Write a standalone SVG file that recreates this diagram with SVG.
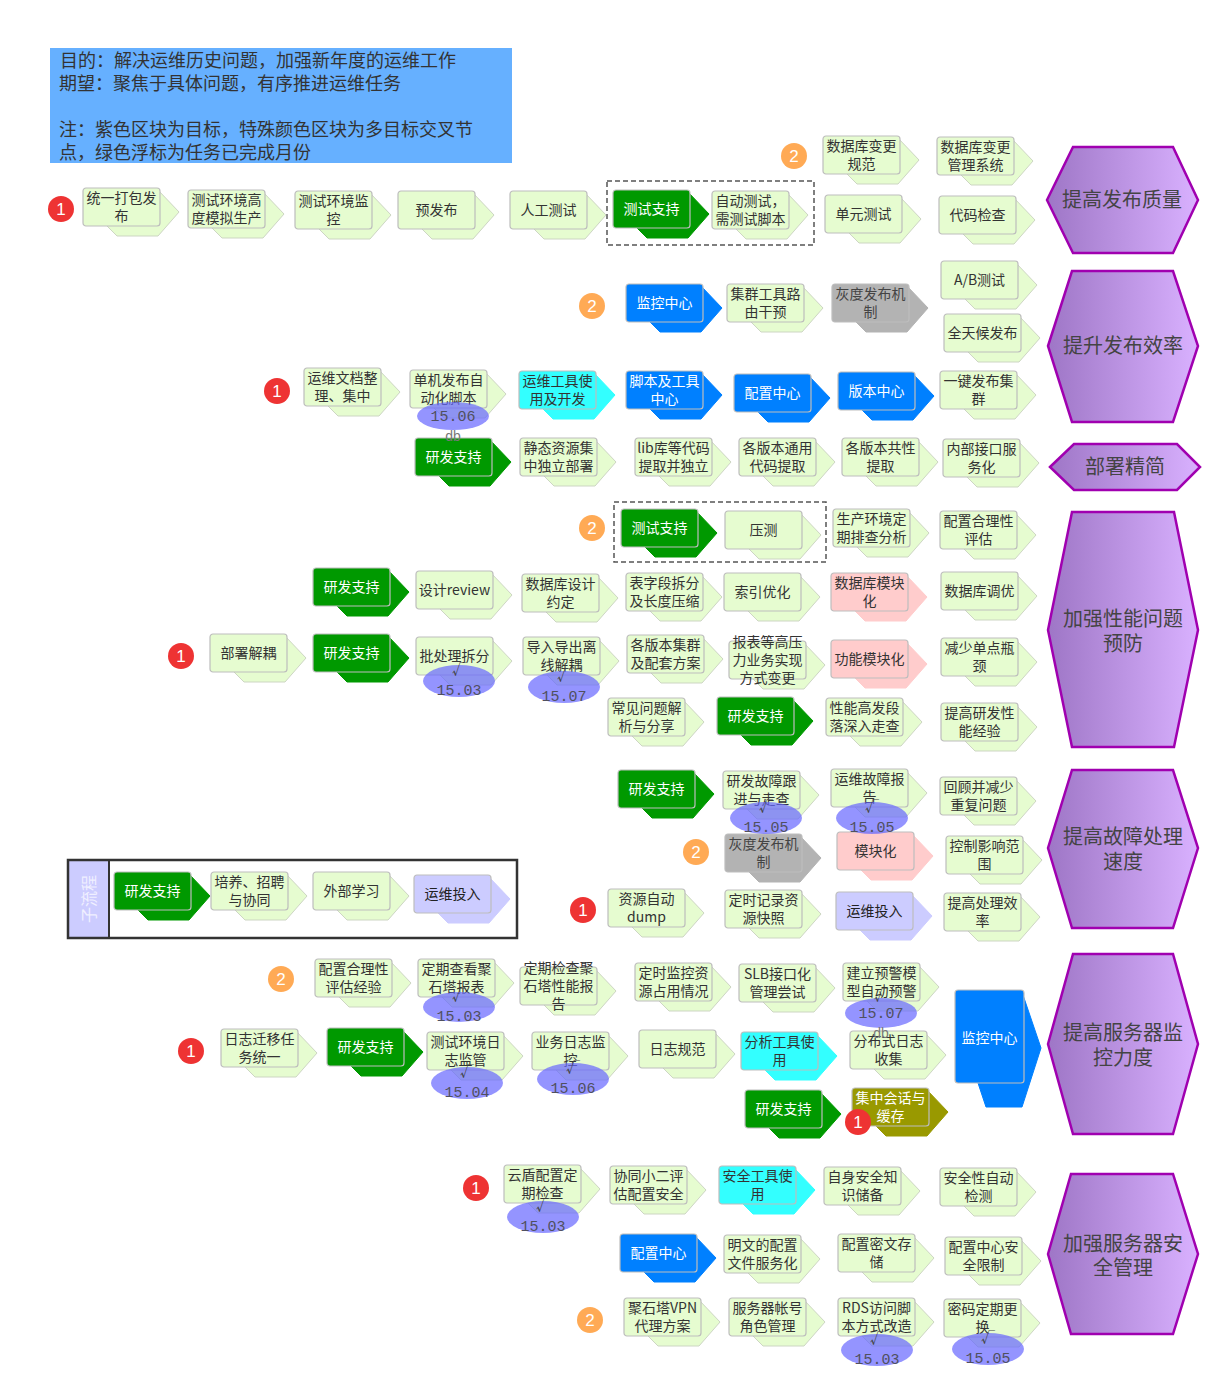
<svg xmlns="http://www.w3.org/2000/svg" xmlns:xlink="http://www.w3.org/1999/xlink" width="1232" height="1396" viewBox="0 0 1232 1396">
<defs>
<linearGradient id="hg" x1="0" y1="0" x2="1" y2="0"><stop offset="0" stop-color="#9e76c6"/><stop offset="1" stop-color="#d9b1ff"/></linearGradient>
<polygon id="bk" points="8,2 75,2 96,24 75,48 34,48 23,37"/>
<rect id="fr" width="77" height="38" rx="3"/>
</defs>
<style>
.nd text{font-family:"Noto Sans CJK SC","Liberation Sans",sans-serif;font-size:14px;text-anchor:middle}
.f{stroke:#bdbdbd;stroke-width:1.2}
.L use,.L .s{fill:#e6fcd0}.L .k{stroke:#cdd6c3}.L text{fill:#333}
.G use,.G .s{fill:#009900}.G .k{stroke:#009900}.G text{fill:#fff}
.B use,.B .s{fill:#0080ff}.B .k{stroke:#0080ff}.B text{fill:#fff}
.C use,.C .s{fill:#33ffff}.C .k{stroke:#33ffff}.C text{fill:#333}
.Y use,.Y .s{fill:#b3b3b3}.Y .k{stroke:#b3b3b3}.Y text{fill:#444}
.P use,.P .s{fill:#ffcccc}.P .k{stroke:#ffcccc}.P text{fill:#333}
.V use,.V .s{fill:#ccccff}.V .k{stroke:#ccccff}.V text{fill:#222}
.O use,.O .s{fill:#999900}.O .k{stroke:#999900}.O text{fill:#fff}
.hx polygon{fill:url(#hg);stroke:#a000b0;stroke-width:2.5}
.hx text{font-family:"Noto Sans CJK SC","Liberation Sans",sans-serif;font-size:20px;fill:#444;text-anchor:middle}
.bd circle{fill:#ee3333}.bd2 circle{fill:#ffaa55}
.bd text,.bd2 text{font-family:"Liberation Sans","Noto Sans CJK SC",sans-serif;font-size:17px;fill:#fff;text-anchor:middle}
.bub ellipse{fill:#6666ff;fill-opacity:0.7}
.bub text{text-anchor:middle}
.bub .n{font-family:"Liberation Mono",monospace;font-size:15px;fill:#505060}
.bub .c{font-family:"Noto Sans CJK SC",sans-serif;font-size:14px;fill:#444}
.bub .d{font-family:"Liberation Sans",sans-serif;font-size:14px;fill:#777}
.dash{fill:none;stroke:#555;stroke-width:1.5;stroke-dasharray:5 3}
.note text{font-family:"Noto Sans CJK SC","Liberation Sans",sans-serif;font-size:18px;fill:#333}
</style>
<rect width="1232" height="1396" fill="#fff"/>

<g id="note" class="note">
<rect x="50" y="48" width="462" height="115" fill="#66b0ff"/>
<text x="60" y="67">目的：解决运维历史问题，加强新年度的运维工作</text>
<text x="59" y="90">期望：聚焦于具体问题，有序推进运维任务</text>
<text x="59" y="136">注：紫色区块为目标，特殊颜色区块为多目标交叉节</text>
<text x="59" y="159">点，绿色浮标为任务已完成月份</text>
</g>

<g id="frames">
<rect class="dash" x="607" y="181" width="207" height="64"/>
<rect class="dash" x="614" y="502" width="212" height="60"/>
<g id="subprocess">
<rect x="69" y="861" width="40" height="76" fill="#ccccff"/>
<rect x="68" y="860" width="449" height="78" fill="none" stroke="#333" stroke-width="2.5"/>
<line x1="109" y1="860" x2="109" y2="938" stroke="#333" stroke-width="2"/>
<text transform="translate(89,899) rotate(-90)" y="6" font-family="Noto Sans CJK SC, sans-serif" font-size="16" fill="#f0f0ff" text-anchor="middle">子流程</text>
</g>
</g>

<g id="connectors"></g>

<!-- Row 1 -->
<g id="n-tydb" class="nd L" transform="translate(83,188)"><use href="#bk" class="k"/><use href="#fr" class="f"/><text x="38.5" y="15">统一打包发</text><text x="38.5" y="33">布</text></g>
<g id="n-csgd" class="nd L" transform="translate(188,190)"><use href="#bk" class="k"/><use href="#fr" class="f"/><text x="38.5" y="15">测试环境高</text><text x="38.5" y="33">度模拟生产</text></g>
<g id="n-csjk" class="nd L" transform="translate(295,191)"><use href="#bk" class="k"/><use href="#fr" class="f"/><text x="38.5" y="15">测试环境监</text><text x="38.5" y="33">控</text></g>
<g id="n-yfb" class="nd L" transform="translate(398,191)"><use href="#bk" class="k"/><use href="#fr" class="f"/><text x="38.5" y="24">预发布</text></g>
<g id="n-rgcs" class="nd L" transform="translate(510,191)"><use href="#bk" class="k"/><use href="#fr" class="f"/><text x="38.5" y="24">人工测试</text></g>
<g id="n-cszc1" class="nd G" transform="translate(613,190)"><use href="#bk" class="k"/><use href="#fr" class="f"/><text x="38.5" y="24">测试支持</text></g>
<g id="n-zdcs" class="nd L" transform="translate(712,191)"><use href="#bk" class="k"/><use href="#fr" class="f"/><text x="38.5" y="15">自动测试，</text><text x="38.5" y="33">需测试脚本</text></g>
<g id="n-sjkgf" class="nd L" transform="translate(823,136)"><use href="#bk" class="k"/><use href="#fr" class="f"/><text x="38.5" y="15">数据库变更</text><text x="38.5" y="33">规范</text></g>
<g id="n-sjkgl" class="nd L" transform="translate(937,137)"><use href="#bk" class="k"/><use href="#fr" class="f"/><text x="38.5" y="15">数据库变更</text><text x="38.5" y="33">管理系统</text></g>
<g id="n-dycs" class="nd L" transform="translate(825,195)"><use href="#bk" class="k"/><use href="#fr" class="f"/><text x="38.5" y="24">单元测试</text></g>
<g id="n-dmjc" class="nd L" transform="translate(939,196)"><use href="#bk" class="k"/><use href="#fr" class="f"/><text x="38.5" y="24">代码检查</text></g>

<!-- Row 2 -->
<g id="n-jkzx1" class="nd B" transform="translate(626,284)"><use href="#bk" class="k"/><use href="#fr" class="f"/><text x="38.5" y="24">监控中心</text></g>
<g id="n-jqgj" class="nd L" transform="translate(727,284)"><use href="#bk" class="k"/><use href="#fr" class="f"/><text x="38.5" y="15">集群工具路</text><text x="38.5" y="33">由干预</text></g>
<g id="n-hdfb1" class="nd Y" transform="translate(832,284)"><use href="#bk" class="k"/><use href="#fr" class="f"/><text x="38.5" y="15">灰度发布机</text><text x="38.5" y="33">制</text></g>
<g id="n-ab" class="nd L" transform="translate(941,261)"><use href="#bk" class="k"/><use href="#fr" class="f"/><text x="38.5" y="24">A/B测试</text></g>
<g id="n-qth" class="nd L" transform="translate(944,314)"><use href="#bk" class="k"/><use href="#fr" class="f"/><text x="38.5" y="24">全天候发布</text></g>
<g id="n-ywwd" class="nd L" transform="translate(304,368)"><use href="#bk" class="k"/><use href="#fr" class="f"/><text x="38.5" y="15">运维文档整</text><text x="38.5" y="33">理、集中</text></g>
<g id="n-djfb" class="nd L" transform="translate(410,370)"><use href="#bk" class="k"/><use href="#fr" class="f"/><text x="38.5" y="15">单机发布自</text><text x="38.5" y="33">动化脚本</text></g>
<g id="n-ywgj" class="nd C" transform="translate(519,371)"><use href="#bk" class="k"/><use href="#fr" class="f"/><text x="38.5" y="15">运维工具使</text><text x="38.5" y="33">用及开发</text></g>
<g id="n-jbgj" class="nd B" transform="translate(626,371)"><use href="#bk" class="k"/><use href="#fr" class="f"/><text x="38.5" y="15">脚本及工具</text><text x="38.5" y="33">中心</text></g>
<g id="n-pzzx1" class="nd B" transform="translate(734,374)"><use href="#bk" class="k"/><use href="#fr" class="f"/><text x="38.5" y="24">配置中心</text></g>
<g id="n-bbzx" class="nd B" transform="translate(838,372)"><use href="#bk" class="k"/><use href="#fr" class="f"/><text x="38.5" y="24">版本中心</text></g>
<g id="n-yjfb" class="nd L" transform="translate(940,371)"><use href="#bk" class="k"/><use href="#fr" class="f"/><text x="38.5" y="15">一键发布集</text><text x="38.5" y="33">群</text></g>
<g id="n-yfzc1" class="nd G" transform="translate(415,438)"><use href="#bk" class="k"/><use href="#fr" class="f"/><text x="38.5" y="24">研发支持</text></g>
<g id="n-jtzy" class="nd L" transform="translate(520,438)"><use href="#bk" class="k"/><use href="#fr" class="f"/><text x="38.5" y="15">静态资源集</text><text x="38.5" y="33">中独立部署</text></g>
<g id="n-lib" class="nd L" transform="translate(635,438)"><use href="#bk" class="k"/><use href="#fr" class="f"/><text x="38.5" y="15">lib库等代码</text><text x="38.5" y="33">提取并独立</text></g>
<g id="n-gbbty" class="nd L" transform="translate(739,438)"><use href="#bk" class="k"/><use href="#fr" class="f"/><text x="38.5" y="15">各版本通用</text><text x="38.5" y="33">代码提取</text></g>
<g id="n-gbbgx" class="nd L" transform="translate(842,438)"><use href="#bk" class="k"/><use href="#fr" class="f"/><text x="38.5" y="15">各版本共性</text><text x="38.5" y="33">提取</text></g>
<g id="n-nbjk" class="nd L" transform="translate(943,439)"><use href="#bk" class="k"/><use href="#fr" class="f"/><text x="38.5" y="15">内部接口服</text><text x="38.5" y="33">务化</text></g>

<!-- Performance -->
<g id="n-cszc2" class="nd G" transform="translate(621,509)"><use href="#bk" class="k"/><use href="#fr" class="f"/><text x="38.5" y="24">测试支持</text></g>
<g id="n-yc" class="nd L" transform="translate(725,511)"><use href="#bk" class="k"/><use href="#fr" class="f"/><text x="38.5" y="24">压测</text></g>
<g id="n-scjj" class="nd L" transform="translate(833,509)"><use href="#bk" class="k"/><use href="#fr" class="f"/><text x="38.5" y="15">生产环境定</text><text x="38.5" y="33">期排查分析</text></g>
<g id="n-pzhl" class="nd L" transform="translate(940,511)"><use href="#bk" class="k"/><use href="#fr" class="f"/><text x="38.5" y="15">配置合理性</text><text x="38.5" y="33">评估</text></g>
<g id="n-yfzc2" class="nd G" transform="translate(313,568)"><use href="#bk" class="k"/><use href="#fr" class="f"/><text x="38.5" y="24">研发支持</text></g>
<g id="n-sjr" class="nd L" transform="translate(416,571)"><use href="#bk" class="k"/><use href="#fr" class="f"/><text x="38.5" y="24">设计review</text></g>
<g id="n-sjksj" class="nd L" transform="translate(522,574)"><use href="#bk" class="k"/><use href="#fr" class="f"/><text x="38.5" y="15">数据库设计</text><text x="38.5" y="33">约定</text></g>
<g id="n-bzd" class="nd L" transform="translate(626,573)"><use href="#bk" class="k"/><use href="#fr" class="f"/><text x="38.5" y="15">表字段拆分</text><text x="38.5" y="33">及长度压缩</text></g>
<g id="n-syyh" class="nd L" transform="translate(724,573)"><use href="#bk" class="k"/><use href="#fr" class="f"/><text x="38.5" y="24">索引优化</text></g>
<g id="n-sjkmk" class="nd P" transform="translate(831,573)"><use href="#bk" class="k"/><use href="#fr" class="f"/><text x="38.5" y="15">数据库模块</text><text x="38.5" y="33">化</text></g>
<g id="n-sjkty" class="nd L" transform="translate(941,572)"><use href="#bk" class="k"/><use href="#fr" class="f"/><text x="38.5" y="24">数据库调优</text></g>
<g id="n-bsjo" class="nd L" transform="translate(210,634)"><use href="#bk" class="k"/><use href="#fr" class="f"/><text x="38.5" y="24">部署解耦</text></g>
<g id="n-yfzc3" class="nd G" transform="translate(313,634)"><use href="#bk" class="k"/><use href="#fr" class="f"/><text x="38.5" y="24">研发支持</text></g>
<g id="n-pclcf" class="nd L" transform="translate(416,637)"><use href="#bk" class="k"/><use href="#fr" class="f"/><text x="38.5" y="24">批处理拆分</text></g>
<g id="n-drdc" class="nd L" transform="translate(523,637)"><use href="#bk" class="k"/><use href="#fr" class="f"/><text x="38.5" y="15">导入导出离</text><text x="38.5" y="33">线解耦</text></g>
<g id="n-gbbjq" class="nd L" transform="translate(627,635)"><use href="#bk" class="k"/><use href="#fr" class="f"/><text x="38.5" y="15">各版本集群</text><text x="38.5" y="33">及配套方案</text></g>
<g id="n-bbdg" class="nd L" transform="translate(729,641)"><use href="#bk" class="k"/><use href="#fr" class="f"/><text x="38.5" y="6">报表等高压</text><text x="38.5" y="24">力业务实现</text><text x="38.5" y="42">方式变更</text></g>
<g id="n-gnmk" class="nd P" transform="translate(831,640)"><use href="#bk" class="k"/><use href="#fr" class="f"/><text x="38.5" y="24">功能模块化</text></g>
<g id="n-jsdd" class="nd L" transform="translate(941,638)"><use href="#bk" class="k"/><use href="#fr" class="f"/><text x="38.5" y="15">减少单点瓶</text><text x="38.5" y="33">颈</text></g>
<g id="n-cjwt" class="nd L" transform="translate(608,698)"><use href="#bk" class="k"/><use href="#fr" class="f"/><text x="38.5" y="15">常见问题解</text><text x="38.5" y="33">析与分享</text></g>
<g id="n-yfzc4" class="nd G" transform="translate(717,697)"><use href="#bk" class="k"/><use href="#fr" class="f"/><text x="38.5" y="24">研发支持</text></g>
<g id="n-xngf" class="nd L" transform="translate(826,698)"><use href="#bk" class="k"/><use href="#fr" class="f"/><text x="38.5" y="15">性能高发段</text><text x="38.5" y="33">落深入走查</text></g>
<g id="n-tgyf" class="nd L" transform="translate(941,703)"><use href="#bk" class="k"/><use href="#fr" class="f"/><text x="38.5" y="15">提高研发性</text><text x="38.5" y="33">能经验</text></g>

<!-- Fault handling -->
<g id="n-yfzc5" class="nd G" transform="translate(618,770)"><use href="#bk" class="k"/><use href="#fr" class="f"/><text x="38.5" y="24">研发支持</text></g>
<g id="n-yfgz" class="nd L" transform="translate(723,771)"><use href="#bk" class="k"/><use href="#fr" class="f"/><text x="38.5" y="15">研发故障跟</text><text x="38.5" y="33">进与走查</text></g>
<g id="n-ywgz" class="nd L" transform="translate(831,769)"><use href="#bk" class="k"/><use href="#fr" class="f"/><text x="38.5" y="15">运维故障报</text><text x="38.5" y="33">告</text></g>
<g id="n-hgbj" class="nd L" transform="translate(940,777)"><use href="#bk" class="k"/><use href="#fr" class="f"/><text x="38.5" y="15">回顾并减少</text><text x="38.5" y="33">重复问题</text></g>
<g id="n-hdfb2" class="nd Y" transform="translate(725,834)"><use href="#bk" class="k"/><use href="#fr" class="f"/><text x="38.5" y="15">灰度发布机</text><text x="38.5" y="33">制</text></g>
<g id="n-mkh" class="nd P" transform="translate(837,832)"><use href="#bk" class="k"/><use href="#fr" class="f"/><text x="38.5" y="24">模块化</text></g>
<g id="n-kzyx" class="nd L" transform="translate(946,836)"><use href="#bk" class="k"/><use href="#fr" class="f"/><text x="38.5" y="15">控制影响范</text><text x="38.5" y="33">围</text></g>
<g id="n-zyzd" class="nd L" transform="translate(608,889)"><use href="#bk" class="k"/><use href="#fr" class="f"/><text x="38.5" y="15">资源自动</text><text x="38.5" y="33">dump</text></g>
<g id="n-dsjl" class="nd L" transform="translate(725,890)"><use href="#bk" class="k"/><use href="#fr" class="f"/><text x="38.5" y="15">定时记录资</text><text x="38.5" y="33">源快照</text></g>
<g id="n-ywtr2" class="nd V" transform="translate(836,892)"><use href="#bk" class="k"/><use href="#fr" class="f"/><text x="38.5" y="24">运维投入</text></g>
<g id="n-tgcl" class="nd L" transform="translate(944,893)"><use href="#bk" class="k"/><use href="#fr" class="f"/><text x="38.5" y="15">提高处理效</text><text x="38.5" y="33">率</text></g>

<!-- Sub-process -->
<g id="n-yfzc6" class="nd G" transform="translate(114,872)"><use href="#bk" class="k"/><use href="#fr" class="f"/><text x="38.5" y="24">研发支持</text></g>
<g id="n-pyzp" class="nd L" transform="translate(211,872)"><use href="#bk" class="k"/><use href="#fr" class="f"/><text x="38.5" y="15">培养、招聘</text><text x="38.5" y="33">与协同</text></g>
<g id="n-wbxx" class="nd L" transform="translate(313,872)"><use href="#bk" class="k"/><use href="#fr" class="f"/><text x="38.5" y="24">外部学习</text></g>
<g id="n-ywtr1" class="nd V" transform="translate(414,875)"><use href="#bk" class="k"/><use href="#fr" class="f"/><text x="38.5" y="24">运维投入</text></g>

<!-- Monitoring -->
<g id="n-pzhlj" class="nd L" transform="translate(315,959)"><use href="#bk" class="k"/><use href="#fr" class="f"/><text x="38.5" y="15">配置合理性</text><text x="38.5" y="33">评估经验</text></g>
<g id="n-dqck" class="nd L" transform="translate(418,959)"><use href="#bk" class="k"/><use href="#fr" class="f"/><text x="38.5" y="15">定期查看聚</text><text x="38.5" y="33">石塔报表</text></g>
<g id="n-dqjc" class="nd L" transform="translate(520,967)"><use href="#bk" class="k"/><use href="#fr" class="f"/><text x="38.5" y="6">定期检查聚</text><text x="38.5" y="24">石塔性能报</text><text x="38.5" y="42">告</text></g>
<g id="n-dsjk" class="nd L" transform="translate(635,963)"><use href="#bk" class="k"/><use href="#fr" class="f"/><text x="38.5" y="15">定时监控资</text><text x="38.5" y="33">源占用情况</text></g>
<g id="n-slb" class="nd L" transform="translate(739,964)"><use href="#bk" class="k"/><use href="#fr" class="f"/><text x="38.5" y="15">SLB接口化</text><text x="38.5" y="33">管理尝试</text></g>
<g id="n-jlyj" class="nd L" transform="translate(843,963)"><use href="#bk" class="k"/><use href="#fr" class="f"/><text x="38.5" y="15">建立预警模</text><text x="38.5" y="33">型自动预警</text></g>
<g id="n-rzqy" class="nd L" transform="translate(221,1029)"><use href="#bk" class="k"/><use href="#fr" class="f"/><text x="38.5" y="15">日志迁移任</text><text x="38.5" y="33">务统一</text></g>
<g id="n-yfzc7" class="nd G" transform="translate(327,1028)"><use href="#bk" class="k"/><use href="#fr" class="f"/><text x="38.5" y="24">研发支持</text></g>
<g id="n-csrz" class="nd L" transform="translate(427,1032)"><use href="#bk" class="k"/><use href="#fr" class="f"/><text x="38.5" y="15">测试环境日</text><text x="38.5" y="33">志监管</text></g>
<g id="n-ywrz" class="nd L" transform="translate(532,1032)"><use href="#bk" class="k"/><use href="#fr" class="f"/><text x="38.5" y="15">业务日志监</text><text x="38.5" y="33">控</text></g>
<g id="n-rzgf" class="nd L" transform="translate(639,1030)"><use href="#bk" class="k"/><use href="#fr" class="f"/><text x="38.5" y="24">日志规范</text></g>
<g id="n-fxgj" class="nd C" transform="translate(741,1032)"><use href="#bk" class="k"/><use href="#fr" class="f"/><text x="38.5" y="15">分析工具使</text><text x="38.5" y="33">用</text></g>
<g id="n-fbsrz" class="nd L" transform="translate(850,1031)"><use href="#bk" class="k"/><use href="#fr" class="f"/><text x="38.5" y="15">分布式日志</text><text x="38.5" y="33">收集</text></g>
<g id="n-yfzc8" class="nd G" transform="translate(745,1090)"><use href="#bk" class="k"/><use href="#fr" class="f"/><text x="38.5" y="24">研发支持</text></g>
<g id="n-jzhh" class="nd O" transform="translate(852,1088)"><use href="#bk" class="k"/><use href="#fr" class="f"/><text x="38.5" y="15">集中会话与</text><text x="38.5" y="33">缓存</text></g>
<g id="n-jkzx2" class="nd B">
<polygon class="s k" points="963,992 1022,992 1041,1048 1022,1107 986,1107 978,1083"/>
<rect class="s f" x="955" y="990" width="69" height="93" rx="3"/>
<text x="989.5" y="1043">监控中心</text>
</g>

<!-- Security -->
<g id="n-ydpz" class="nd L" transform="translate(504,1165)"><use href="#bk" class="k"/><use href="#fr" class="f"/><text x="38.5" y="15">云盾配置定</text><text x="38.5" y="33">期检查</text></g>
<g id="n-xtxe" class="nd L" transform="translate(610,1166)"><use href="#bk" class="k"/><use href="#fr" class="f"/><text x="38.5" y="15">协同小二评</text><text x="38.5" y="33">估配置安全</text></g>
<g id="n-aqgj" class="nd C" transform="translate(719,1166)"><use href="#bk" class="k"/><use href="#fr" class="f"/><text x="38.5" y="15">安全工具使</text><text x="38.5" y="33">用</text></g>
<g id="n-zsaq" class="nd L" transform="translate(824,1167)"><use href="#bk" class="k"/><use href="#fr" class="f"/><text x="38.5" y="15">自身安全知</text><text x="38.5" y="33">识储备</text></g>
<g id="n-aqxzd" class="nd L" transform="translate(940,1168)"><use href="#bk" class="k"/><use href="#fr" class="f"/><text x="38.5" y="15">安全性自动</text><text x="38.5" y="33">检测</text></g>
<g id="n-pzzx2" class="nd B" transform="translate(620,1234)"><use href="#bk" class="k"/><use href="#fr" class="f"/><text x="38.5" y="24">配置中心</text></g>
<g id="n-mwpz" class="nd L" transform="translate(724,1235)"><use href="#bk" class="k"/><use href="#fr" class="f"/><text x="38.5" y="15">明文的配置</text><text x="38.5" y="33">文件服务化</text></g>
<g id="n-pzmw" class="nd L" transform="translate(838,1234)"><use href="#bk" class="k"/><use href="#fr" class="f"/><text x="38.5" y="15">配置密文存</text><text x="38.5" y="33">储</text></g>
<g id="n-pzzxaq" class="nd L" transform="translate(945,1237)"><use href="#bk" class="k"/><use href="#fr" class="f"/><text x="38.5" y="15">配置中心安</text><text x="38.5" y="33">全限制</text></g>
<g id="n-jstvpn" class="nd L" transform="translate(624,1298)"><use href="#bk" class="k"/><use href="#fr" class="f"/><text x="38.5" y="15">聚石塔VPN</text><text x="38.5" y="33">代理方案</text></g>
<g id="n-fwqzh" class="nd L" transform="translate(729,1298)"><use href="#bk" class="k"/><use href="#fr" class="f"/><text x="38.5" y="15">服务器帐号</text><text x="38.5" y="33">角色管理</text></g>
<g id="n-rds" class="nd L" transform="translate(838,1298)"><use href="#bk" class="k"/><use href="#fr" class="f"/><text x="38.5" y="15">RDS访问脚</text><text x="38.5" y="33">本方式改造</text></g>
<g id="n-mmdq" class="nd L" transform="translate(944,1299)"><use href="#bk" class="k"/><use href="#fr" class="f"/><text x="38.5" y="15">密码定期更</text><text x="38.5" y="33">换</text></g>

<!-- Goals -->
<g id="g-fbzl" class="hx"><polygon points="1047,200 1073,147 1173,147 1198,200 1173,253 1073,253"/><text x="1122" y="207">提高发布质量</text></g>
<g id="g-fbxl" class="hx"><polygon points="1048,346 1072,271 1173,271 1198,346 1173,422 1072,422"/><text x="1123" y="353">提升发布效率</text></g>
<g id="g-bsjj" class="hx"><polygon points="1050,467 1074,444 1177,444 1200,467 1177,490 1074,490"/><text x="1125" y="474">部署精简</text></g>
<g id="g-xnyf" class="hx"><polygon points="1048,630 1072,512 1174,512 1198,630 1174,747 1072,747"/><text x="1123" y="626">加强性能问题</text><text x="1123" y="651">预防</text></g>
<g id="g-gzcl" class="hx"><polygon points="1048,848 1072,770 1173,770 1198,848 1173,928 1072,928"/><text x="1123" y="844">提高故障处理</text><text x="1123" y="869">速度</text></g>
<g id="g-jkld" class="hx"><polygon points="1048,1044 1073,954 1173,954 1198,1044 1173,1134 1073,1134"/><text x="1123" y="1040">提高服务器监</text><text x="1123" y="1065">控力度</text></g>
<g id="g-aqgl" class="hx"><polygon points="1048,1254 1071,1174 1173,1174 1198,1254 1173,1334 1071,1334"/><text x="1123" y="1251">加强服务器安</text><text x="1123" y="1275">全管理</text></g>

<!-- Completion buoys -->
<g id="buoys">
<g class="bub" transform="translate(453,416)"><ellipse rx="36" ry="14"/><text class="n" y="5">15.06</text><text class="d" y="25">db</text></g>
<g class="bub" transform="translate(459,681)"><ellipse rx="36" ry="16"/><text class="c" y="-7">√</text><text class="n" y="14">15.03</text></g>
<g class="bub" transform="translate(564,687)"><ellipse rx="36" ry="16"/><text class="c" y="-7">√</text><text class="n" y="14">15.07</text></g>
<g class="bub" transform="translate(766,818)"><ellipse rx="36" ry="16"/><text class="c" y="-7">√</text><text class="n" y="14">15.05</text></g>
<g class="bub" transform="translate(872,818)"><ellipse rx="36" ry="16"/><text class="c" y="-7">√</text><text class="n" y="14">15.05</text></g>
<g class="bub" transform="translate(459,1007)"><ellipse rx="36" ry="15"/><text class="c" y="-7">√</text><text class="n" y="14">15.03</text></g>
<g class="bub" transform="translate(881,1013)"><ellipse rx="36" ry="15"/><text class="c" y="-13">√</text><text class="n" y="5">15.07</text><text class="d" y="25">db</text></g>
<g class="bub" transform="translate(467,1083)"><ellipse rx="36" ry="16"/><text class="c" y="-7">√</text><text class="n" y="14">15.04</text></g>
<g class="bub" transform="translate(573,1079)"><ellipse rx="36" ry="16"/><text class="c" y="-7">√</text><text class="n" y="14">15.06</text></g>
<g class="bub" transform="translate(543,1217)"><ellipse rx="36" ry="16"/><text class="c" y="-7">√</text><text class="n" y="14">15.03</text></g>
<g class="bub" transform="translate(877,1350)"><ellipse rx="36" ry="16"/><text class="c" y="-7">√</text><text class="n" y="14">15.03</text></g>
<g class="bub" transform="translate(988,1349)"><ellipse rx="36" ry="16"/><text class="c" y="-7">√</text><text class="n" y="14">15.05</text></g>
</g>

<!-- Priority badges -->
<g id="badges">
<g class="bd" transform="translate(61,209)"><circle r="13"/><text y="6">1</text></g>
<g class="bd" transform="translate(277,391)"><circle r="13"/><text y="6">1</text></g>
<g class="bd" transform="translate(181,656)"><circle r="13"/><text y="6">1</text></g>
<g class="bd" transform="translate(583,910)"><circle r="13"/><text y="6">1</text></g>
<g class="bd" transform="translate(191,1051)"><circle r="13"/><text y="6">1</text></g>
<g class="bd" transform="translate(858,1122)"><circle r="13"/><text y="6">1</text></g>
<g class="bd" transform="translate(476,1188)"><circle r="13"/><text y="6">1</text></g>
<g class="bd2" transform="translate(794,156)"><circle r="13"/><text y="6">2</text></g>
<g class="bd2" transform="translate(592,306)"><circle r="13"/><text y="6">2</text></g>
<g class="bd2" transform="translate(592,528)"><circle r="13"/><text y="6">2</text></g>
<g class="bd2" transform="translate(696,852)"><circle r="13"/><text y="6">2</text></g>
<g class="bd2" transform="translate(281,979)"><circle r="13"/><text y="6">2</text></g>
<g class="bd2" transform="translate(590,1320)"><circle r="13"/><text y="6">2</text></g>
</g>
</svg>
